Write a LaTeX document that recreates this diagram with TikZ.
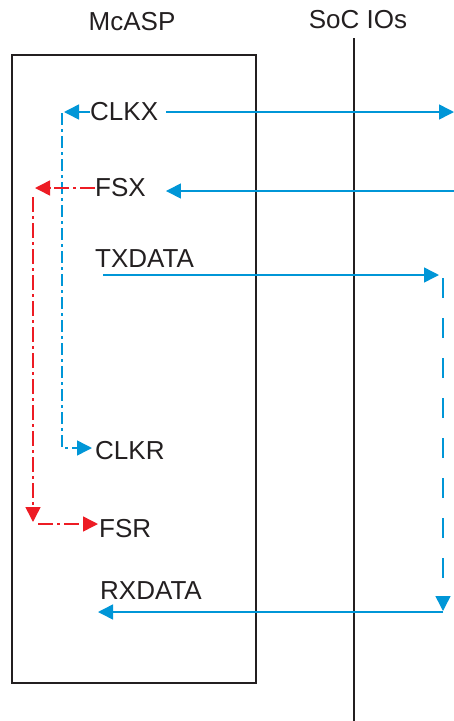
\documentclass[tikz,border=0pt]{standalone}
\usepackage{fontspec}
\setmainfont{Liberation Sans}
\usetikzlibrary{arrows.meta}
\definecolor{tiblue}{RGB}{0,150,215}
\definecolor{tired}{RGB}{237,28,36}
\definecolor{tiblack}{RGB}{35,31,32}
\begin{document}
\begin{tikzpicture}[x=1pt,y=-1pt,
  lbl/.style={font=\fontsize{26}{30}\selectfont, inner sep=0pt, text=tiblack},
  sig/.style={line width=1.5pt, -{Triangle[length=15pt,width=15pt]}},
  bluesig/.style={sig, draw=tiblue},
  redsig/.style={sig, draw=tired},
  bluedashdot/.style={dash pattern=on 12pt off 4pt on 3pt off 4pt},
  reddashdot/.style={dash pattern=on 15pt off 4pt on 3pt off 4pt},
  longdash/.style={dash pattern=on 20pt off 20pt}
]
\useasboundingbox (0,0) rectangle (454,721);
% frame and SoC boundary
\draw[line width=1.2pt, tiblack] (12,55) rectangle (256,683);
\coordinate (soctop) at (354,38);
\coordinate (socbot) at (354,721);
\draw[line width=2pt, tiblack] (soctop) -- (socbot);
% labels
\node[lbl] (mcasp) at (132,22) {McASP};
\node[lbl] (soc) at (358,20) {SoC IOs};
\node[lbl, anchor=west] (clkx) at (90,112) {CLKX};
\node[lbl, anchor=west] (fsx) at (95,188) {FSX};
\node[lbl, anchor=west] (txdata) at (95,259) {TXDATA};
\node[lbl, anchor=west] (clkr) at (95,451) {CLKR};
\node[lbl, anchor=west] (fsr) at (99,529) {FSR};
\node[lbl, anchor=west] (rxdata) at (100,591) {RXDATA};
% coordinates
\coordinate (clkxio) at (454,112);
\coordinate (fsxio) at (454,191);
\coordinate (clkxtap) at (64,112);
\coordinate (clkrv) at (62,113);
\coordinate (clkrin) at (62,448);
\coordinate (fsxtap) at (35,188);
\coordinate (fsrv1) at (33,197);
\coordinate (fsrv2) at (33,522);
\coordinate (fsrh) at (38,524);
\coordinate (txs) at (103,275);
\coordinate (txe) at (439,275);
\coordinate (lb1) at (443,278);
\coordinate (lb2) at (443,611);
\coordinate (rxs) at (443,612);
% CLKX
\draw[bluesig] (clkx.west) -- (clkxtap);
\draw[bluesig] ([xshift=8pt]clkx.east) -- (clkxio);
\draw[bluesig, bluedashdot] (clkrv) -- (clkrin) -- ([xshift=-3pt]clkr.west |- clkrin);
% FSX
\draw[bluesig] (fsxio) -- ([xshift=20pt]fsx.east |- fsxio);
\draw[redsig, reddashdot] (fsx.west) -- (fsxtap);
\draw[redsig, reddashdot] (fsrv1) -- (fsrv2);
\draw[redsig, reddashdot] (fsrh) -- ([xshift=-1pt]fsr.west |- fsrh);
% TX / RX loopback
\draw[bluesig] (txs) -- (txe);
\draw[bluesig, longdash] (lb1) -- (lb2);
\draw[bluesig] (rxs) -- ([xshift=-2pt]rxdata.west |- rxs);
\end{tikzpicture}
\end{document}
